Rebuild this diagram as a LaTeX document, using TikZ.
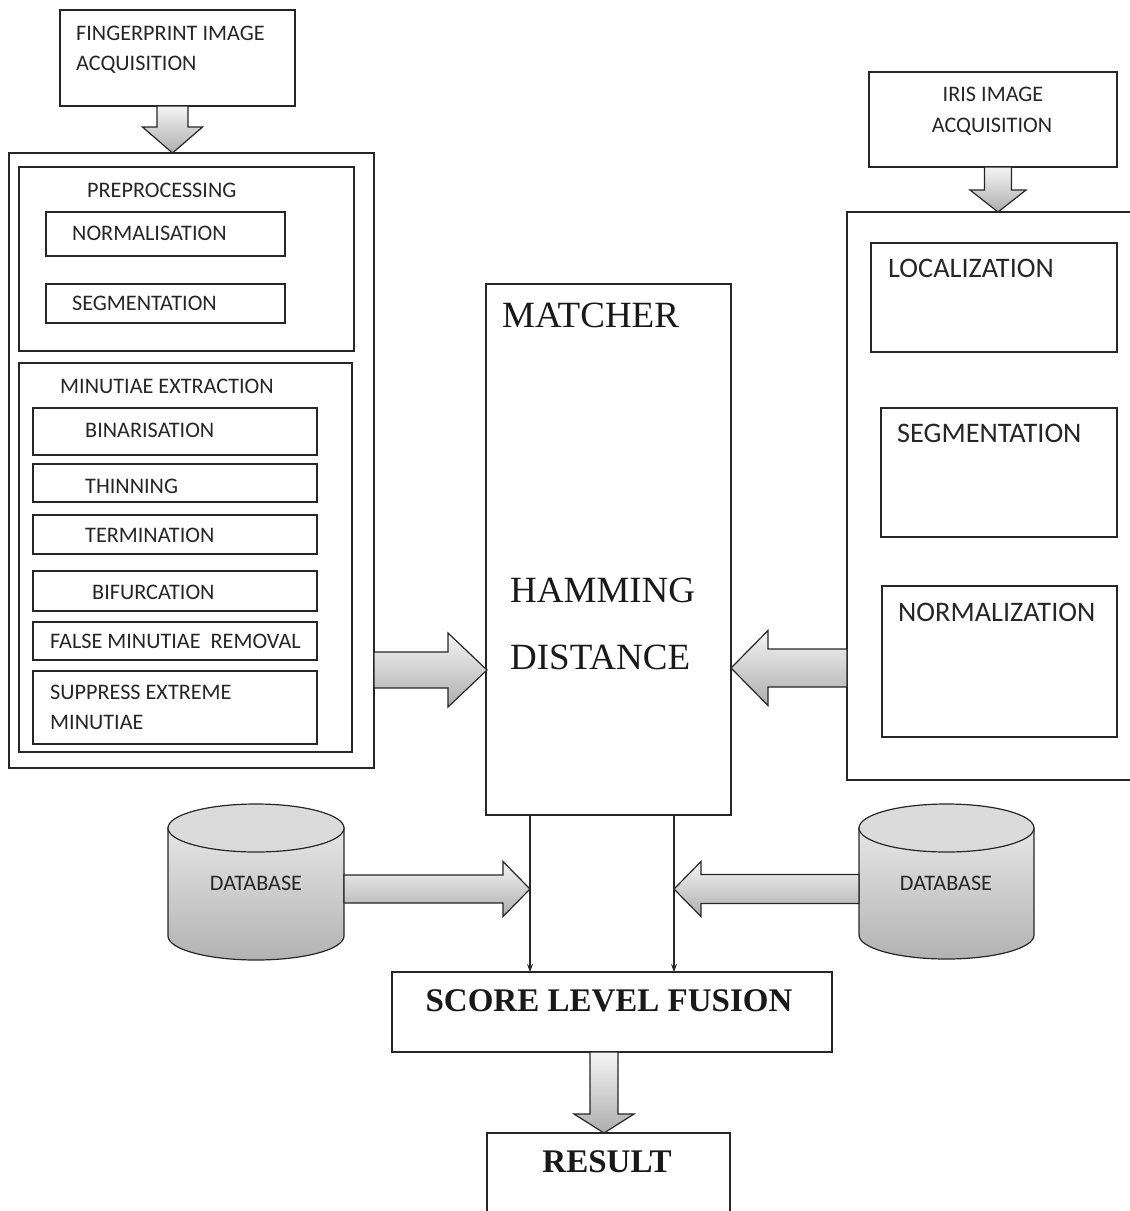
\documentclass[tikz,border=0pt]{standalone}
\usepackage{fontspec}
\setmainfont{Liberation Serif}
\newfontfamily\calfont{Carlito}
\usetikzlibrary{arrows.meta}
\tikzset{
  box/.style={draw=black!85, line width=1.3pt, inner sep=0pt, outer sep=0pt, anchor=north west},
  lbl/.style={font=\calfont\fontsize{22.2}{26}\selectfont, text=black!85, inner sep=0pt, anchor=base west},
  lblc/.style={lbl, anchor=base},
  biglbl/.style={font=\calfont\fontsize{28.3}{33}\selectfont, text=black!85, inner sep=0pt, anchor=base west},
  tms/.style={font=\fontsize{37}{41}\selectfont, text=black!90, inner sep=0pt, anchor=base west},
  tmb/.style={font=\bfseries\fontsize{33}{38}\selectfont, text=black!90, inner sep=0pt, anchor=base},
  fat/.style={draw=black!85, line width=1.2pt, line join=miter, top color=black!4, bottom color=black!32},
  dbfill/.style={draw=black!85, line width=1.2pt, top color=black!10, bottom color=black!30},
  thinarrow/.style={draw=black!85, line width=1.1pt, -{Stealth[length=8pt,width=6pt]}}
}
% box: name, x1, y1, x2, y2
\newcommand\bx[5]{\node[box, minimum width={#4-#2}, minimum height={#5-#3}] (#1) at (#2,#3) {};}
% vertical block arrow: x centre, y top, y tip, shaft half, head half, head length
\newcommand\darrowv[6]{\path[fat] ({#1-#4},#2) -- ({#1+#4},#2) -- ({#1+#4},{#3-#6}) -- ({#1+#5},{#3-#6}) -- (#1,#3) -- ({#1-#5},{#3-#6}) -- ({#1-#4},{#3-#6}) -- cycle;}
% horizontal block arrow: y centre, x start, x tip, shaft half, head half, head length (signed)
\newcommand\harrowh[6]{\path[fat] (#2,{#1-#4}) -- ({#3-#6},{#1-#4}) -- ({#3-#6},{#1-#5}) -- (#3,#1) -- ({#3-#6},{#1+#5}) -- ({#3-#6},{#1+#4}) -- (#2,{#1+#4}) -- cycle;}
% database cylinder: x1, x2, top-ellipse centre y, bottom-ellipse centre y, rx, ry
\newcommand\dbcyl[6]{%
  \path[dbfill] (#1,#3) -- (#1,#4) arc[start angle=180, end angle=360, x radius=#5pt, y radius=#6pt] -- (#2,#3) -- cycle;
  \path[draw=black!85, line width=1.2pt, fill=black!14] ({(#1+#2)/2},#3) ellipse[x radius=#5pt, y radius=#6pt];}
\begin{document}
\begin{tikzpicture}[x=1pt, y=-1pt]
\useasboundingbox (0,0) rectangle (1130,1211);
\fill[white] (0,0) rectangle (1130,1211);

% ---------- fingerprint side ----------
\bx{fpacq}{60}{10}{295}{106}
\node[lbl] (fpacqA) at (76,40) {FINGERPRINT IMAGE};
\node[lbl] (fpacqB) at (76,70) {ACQUISITION};

\bx{leftouter}{9}{153}{374}{768}
\bx{prep}{19}{167}{354}{351}
\node[lbl] (prepT) at (87,197) {PREPROCESSING};
\bx{norm}{46}{212}{285}{256}
\node[lbl] (normT) at (72,240) {NORMALISATION};
\bx{seg}{46}{284}{285}{323}
\node[lbl] (segT) at (72,310) {SEGMENTATION};

\bx{minut}{19}{363}{352}{752}
\node[lbl] (minutT) at (60,393) {MINUTIAE EXTRACTION};
\bx{bin}{33}{408}{317}{455}
\node[lbl] (binT) at (85,437) {BINARISATION};
\bx{thin}{33}{464}{317}{502}
\node[lbl] (thinT) at (85,493) {THINNING};
\bx{term}{33}{515}{317}{554}
\node[lbl] (termT) at (85,542) {TERMINATION};
\bx{bif}{33}{571}{317}{611}
\node[lbl] (bifT) at (92,599) {BIFURCATION};
\bx{false}{33}{622}{317}{660}
\node[lbl] (falseT) at (50,648) {FALSE MINUTIAE\ \ REMOVAL};
\bx{supp}{33}{671}{317}{744}
\node[lbl] (suppA) at (50,699) {SUPPRESS EXTREME};
\node[lbl] (suppB) at (50,729) {MINUTIAE};

% ---------- matcher ----------
\bx{matcher}{486}{284}{731}{815}
\node[tms] (matcherT) at (502,327) {MATCHER};
\node[tms] (hamA) at (510,602) {HAMMING};
\node[tms] (hamB) at (510,669) {DISTANCE};

% ---------- iris side ----------
\bx{irisacq}{869}{72}{1117}{167}
\node[lblc] (irisA) at (993,101) {IRIS IMAGE};
\node[lblc] (irisB) at (992,132) {ACQUISITION};
\draw[draw=black!85, line width=1.3pt] (1135,212) -- (847,212) -- (847,780) -- (1135,780);
\coordinate (rightouter) at (847,212);
\bx{loc}{871}{243}{1117}{352}
\node[biglbl] (locT) at (888,277) {LOCALIZATION};
\bx{segr}{881}{408}{1117}{537}
\node[biglbl] (segrT) at (897,442) {SEGMENTATION};
\bx{normr}{882}{586}{1117}{737}
\node[biglbl] (normrT) at (898,621) {NORMALIZATION};

% ---------- databases ----------
\dbcyl{168}{344}{828}{936}{88}{24}
\node[lblc] (dbL) at (256,890) {DATABASE};
\dbcyl{859}{1034}{828}{935}{87.5}{24}
\node[lblc] (dbR) at (946,890) {DATABASE};

% ---------- fusion and result ----------
\bx{slf}{392}{972}{832}{1052}
\node[tmb] (slfT) at (609,1011) {SCORE LEVEL FUSION};
\draw[draw=black!85, line width=1.3pt] (487,1215) -- (487,1133) -- (730,1133) -- (730,1215);
\coordinate (result) at (608,1133);
\node[tmb] (resultT) at (607,1172) {RESULT};

% ---------- block arrows ----------
\darrowv{172.5}{106}{153}{15.5}{30}{26}
\darrowv{998}{167}{212}{13.5}{28}{22}
\harrowh{670}{374}{487}{18}{37}{39}
\harrowh{668}{847}{731}{19}{37.5}{-37}
\harrowh{889}{344}{530}{14}{27.5}{27}
\harrowh{889}{859}{674}{14.5}{27.5}{-27}
\darrowv{604}{1052}{1133}{14}{30}{19}

% ---------- thin connectors ----------
\coordinate (cl) at (530,0);
\coordinate (cr) at (674,0);
\draw[thinarrow] (matcher.south -| cl) -- (slf.north -| cl);
\draw[thinarrow] (matcher.south -| cr) -- (slf.north -| cr);
\end{tikzpicture}
\end{document}
